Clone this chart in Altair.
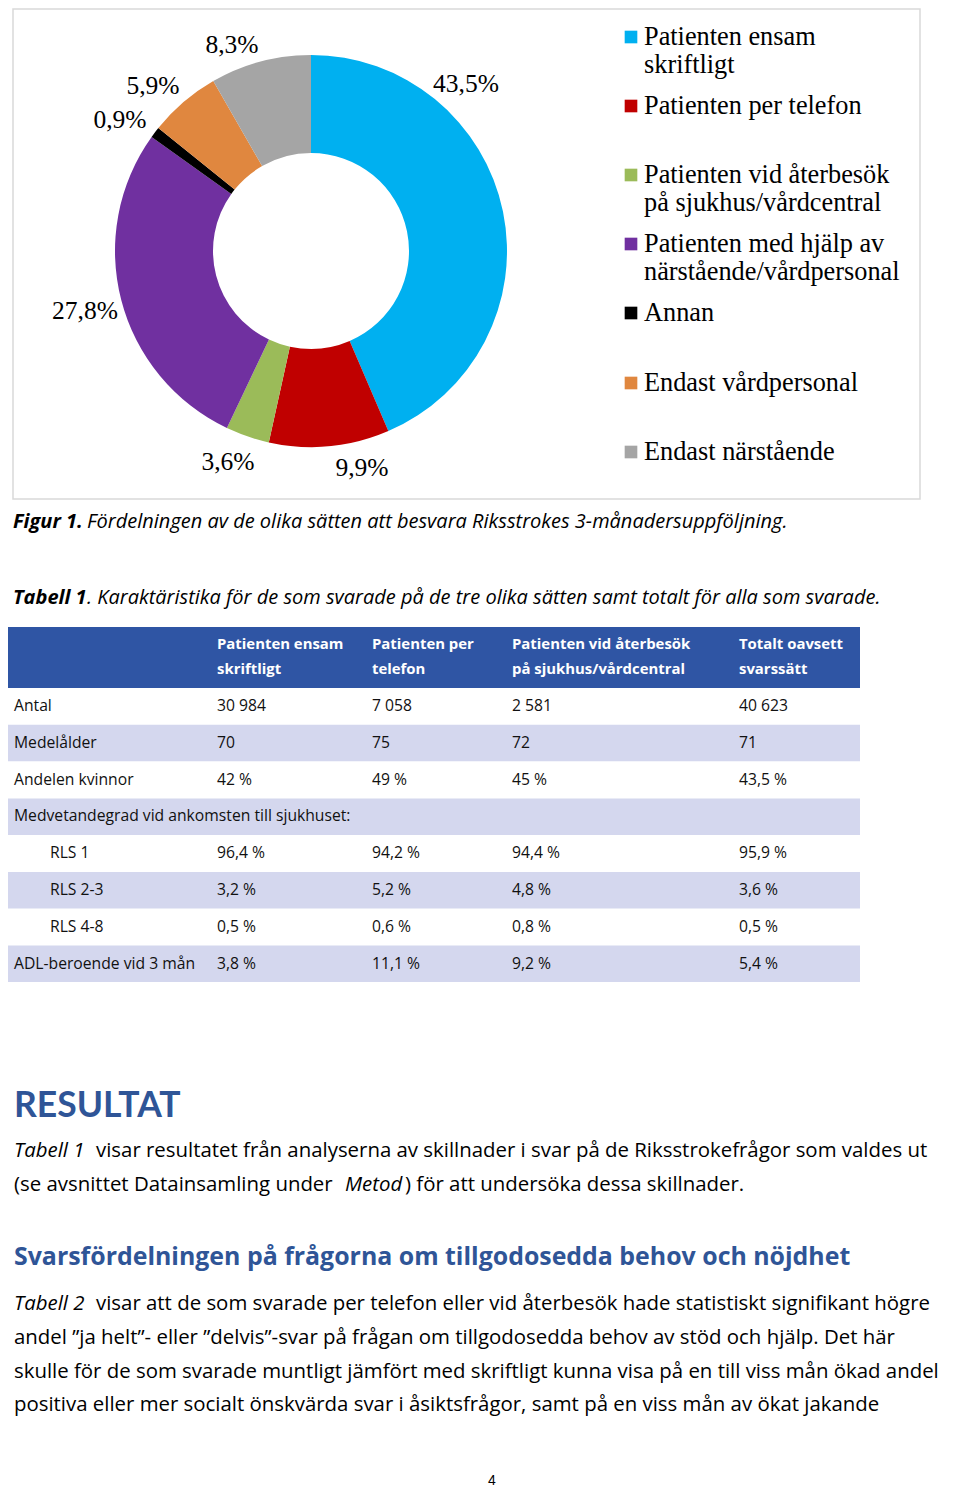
import textwrap
import altair as alt
import pandas as pd

# ---------------- data ----------------
categories = [
    "Patienten ensam skriftligt",
    "Patienten per telefon",
    "Patienten vid återbesök på sjukhus/vårdcentral",
    "Patienten med hjälp av närstående/vårdpersonal",
    "Annan",
    "Endast vårdpersonal",
    "Endast närstående",
]
shares = [43.5, 9.9, 3.6, 27.8, 0.9, 5.9, 8.3]
colors = ["#00B0F0", "#C00000", "#9BBB59", "#7030A0", "#000000", "#E0873F", "#A5A5A5"]

table_columns = [
    "Patienten ensam skriftligt",
    "Patienten per telefon",
    "Patienten vid återbesök på sjukhus/vårdcentral",
    "Totalt oavsett svarssätt",
]
row_labels = ["Antal", "Medelålder", "Andelen kvinnor",
              "Medvetandegrad vid ankomsten till sjukhuset:",
              "RLS 1", "RLS 2-3", "RLS 4-8", "ADL-beroende vid 3 mån"]
row_indent = [False, False, False, False, True, True, True, False]
antal = [30984, 7058, 2581, 40623]
medelalder = [70, 75, 72, 71]
kvinnor = [42, 49, 45, 43.5]
rls1 = [96.4, 94.2, 94.4, 95.9]
rls23 = [3.2, 5.2, 4.8, 3.6]
rls48 = [0.5, 0.6, 0.8, 0.5]
adl = [3.8, 11.1, 9.2, 5.4]

caption_fig = ("Figur 1.", "Fördelningen av de olika sätten att besvara Riksstrokes 3-månadersuppföljning.")
caption_tab = ("Tabell 1", ". Karaktäristika för de som svarade på de tre olika sätten samt totalt för alla som svarade.")
heading1 = "RESULTAT"
heading2 = "Svarsfördelningen på frågorna om tillgodosedda behov och nöjdhet"
para1 = [
    [("Tabell 1", "i"), ("visar resultatet från analyserna av skillnader i svar på de Riksstrokefrågor som valdes ut", "r")],
    [("(se avsnittet Datainsamling under", "r"), ("Metod", "i"), (") för att undersöka dessa skillnader.", "r")],
]
para2 = [
    [("Tabell 2", "i"), ("visar att de som svarade per telefon eller vid återbesök hade statistiskt signifikant högre", "r")],
    [("andel ”ja helt”- eller ”delvis”-svar på frågan om tillgodosedda behov av stöd och hjälp. Det här", "r")],
    [("skulle för de som svarade muntligt jämfört med skriftligt kunna visa på en till viss mån ökad andel", "r")],
    [("positiva eller mer socialt önskvärda svar i åsiktsfrågor, samt på en viss mån av ökat jakande", "r")],
]
page_number = "4"

# ---------------- layout (page pixels) ----------------
MX, MY = 8, 8  # offset of the plot area on the page
W, H = 944, 1484


def pxx(v):
    return v - MX


def pxy(v):
    return v - MY


SANS = "Open Sans"
SERIF = "Liberation Serif"
BLUE_HEAD = "#2F5597"

cx, cy, r_out, r_in = 311, 251, 196, 98
label_pos = [(466, 84), (362, 468), (228, 462), (85, 311), (120, 120), (153, 86), (232, 45)]
legend_first_y = [37, 106, 175, 244, 313, 383, 452]
legend_x_sq, legend_x_txt, legend_lh = 631, 644, 28
frame = (13, 920, 9, 499)

col_x = [217, 372, 512, 739]
col_wrap = [15, 13, 23, 14]
tab_x0, tab_x1 = 8, 860
head_y0, head_y1 = 627, 688
row_y0, row_step = 706, 36.8


def fmt_pct(v):
    return f"{v:g}".replace(".", ",") + " %"


def fmt_int(v):
    return f"{v:,}".replace(",", " ")


row_values = [
    [fmt_int(v) for v in antal],
    [str(v) for v in medelalder],
    [fmt_pct(v) for v in kvinnor],
    None,
    [fmt_pct(v) for v in rls1],
    [fmt_pct(v) for v in rls23],
    [fmt_pct(v) for v in rls48],
    [fmt_pct(v) for v in adl],
]

layers = []


def tlayer(rows, **mk):
    df = pd.DataFrame(rows, columns=["x", "y", "t"])
    df["x"] = df["x"].map(pxx)
    df["y"] = df["y"].map(pxy)
    base = dict(align="left", baseline="middle", font=SANS, fontSize=19, color="#000000")
    base.update(mk)
    return alt.Chart(df).mark_text(**base).encode(
        x=alt.X("x:Q", scale=None, axis=None),
        y=alt.Y("y:Q", scale=None, axis=None),
        text="t:N",
    )


def rlayer(rows, **mk):
    df = pd.DataFrame(rows, columns=["x", "x2", "y", "y2"])
    for c in ["x", "x2"]:
        df[c] = df[c].map(pxx)
    for c in ["y", "y2"]:
        df[c] = df[c].map(pxy)
    return alt.Chart(df).mark_rect(**mk).encode(
        x=alt.X("x:Q", scale=None, axis=None),
        x2="x2:Q",
        y=alt.Y("y:Q", scale=None, axis=None),
        y2="y2:Q",
    )


# chart frame
layers.append(rlayer([frame], fill="white", stroke="#D9D9D9", strokeWidth=1.5))

# donut
color_scale = alt.Scale(domain=categories, range=colors)
donut_df = pd.DataFrame({"cat": categories, "val": shares, "idx": list(range(len(categories)))})
layers.append(
    alt.Chart(donut_df).mark_arc(innerRadius=r_in, outerRadius=r_out).encode(
        theta=alt.Theta("val:Q", stack=True),
        color=alt.Color("cat:N", scale=color_scale, legend=None),
        order=alt.Order("idx:Q"),
        x=alt.value(pxx(cx)),
        y=alt.value(pxy(cy)),
    )
)

# slice labels
lab_rows = [(lx, ly, f"{v:.1f}".replace(".", ",") + "%") for (lx, ly), v in zip(label_pos, shares)]
layers.append(tlayer(lab_rows, align="center", font=SERIF, fontSize=25.5, color="#000000"))

# legend
sq_df = pd.DataFrame({"cat": categories, "x": [pxx(legend_x_sq)] * 7, "y": [pxy(y) for y in legend_first_y]})
layers.append(
    alt.Chart(sq_df).mark_square(size=160, opacity=1).encode(
        x=alt.X("x:Q", scale=None, axis=None),
        y=alt.Y("y:Q", scale=None, axis=None),
        color=alt.Color("cat:N", scale=color_scale, legend=None),
    )
)
leg_rows = []
for name, y in zip(categories, legend_first_y):
    for k, line in enumerate(textwrap.wrap(name, 23)):
        leg_rows.append((legend_x_txt, y + k * legend_lh, line))
layers.append(tlayer(leg_rows, font=SERIF, fontSize=26.3))

# captions
layers.append(tlayer([(13, 522, caption_fig[0]), (13, 598, caption_tab[0])],
                     fontStyle="italic", fontWeight="bold", fontSize=20))
layers.append(tlayer([(87, 522, caption_fig[1]), (87, 598, caption_tab[1])],
                     fontStyle="italic", fontSize=20))

# table backgrounds
layers.append(rlayer([(tab_x0, tab_x1, head_y0, head_y1)], fill="#2F55A4"))
band_rows = []
for i in range(len(row_labels)):
    if i % 2 == 1:
        yc = row_y0 + i * row_step
        band_rows.append((tab_x0, tab_x1, yc - 18, yc + 18.5))
layers.append(rlayer(band_rows, fill="#D4D7EE"))

# table header text
head_rows = []
for x, name, w in zip(col_x, table_columns, col_wrap):
    for k, line in enumerate(textwrap.wrap(name, w)):
        head_rows.append((x, 645 + k * 24.5, line))
layers.append(tlayer(head_rows, fontWeight="bold", fontSize=14.9, color="white"))

# table body text
body_rows = []
for i, (lab, ind, vals) in enumerate(zip(row_labels, row_indent, row_values)):
    yc = row_y0 + i * row_step
    body_rows.append((50 if ind else 14, yc, lab))
    if vals:
        for x, v in zip(col_x, vals):
            body_rows.append((x, yc, v))
layers.append(tlayer(body_rows, fontSize=15.7, color="#111111"))

# headings
layers.append(tlayer([(14, 1106, heading1)], font="Lato", fontWeight="bold", fontSize=35.5, color=BLUE_HEAD))
layers.append(tlayer([(14, 1258, heading2)], fontWeight="bold", fontSize=24.9, color=BLUE_HEAD))

# paragraphs
seg_x = {
    (0, 0): [14, 96],
    (0, 1): [14, 345, 405],
    (1, 0): [14, 96],
}
para_y = [[1151, 1185], [1304, 1338, 1372, 1405]]
it_rows, rg_rows = [], []
for p, para in enumerate([para1, para2]):
    for li, segs in enumerate(para):
        xs = seg_x.get((p, li), [14])
        for (txt, style), x in zip(segs, xs):
            (it_rows if style == "i" else rg_rows).append((x, para_y[p][li], txt))
layers.append(tlayer(it_rows, fontStyle="italic", fontSize=20.4))
layers.append(tlayer(rg_rows, fontSize=20.4))

# page number
layers.append(tlayer([(492, 1481, page_number)], align="center", font="Liberation Sans", fontSize=14))

chart = alt.layer(*layers).properties(
    width=W, height=H, padding=0, autosize=alt.AutoSizeParams(type="none")
).configure_view(stroke=None)
chart.save("out.html", embed_options={"renderer": "svg", "actions": False})
